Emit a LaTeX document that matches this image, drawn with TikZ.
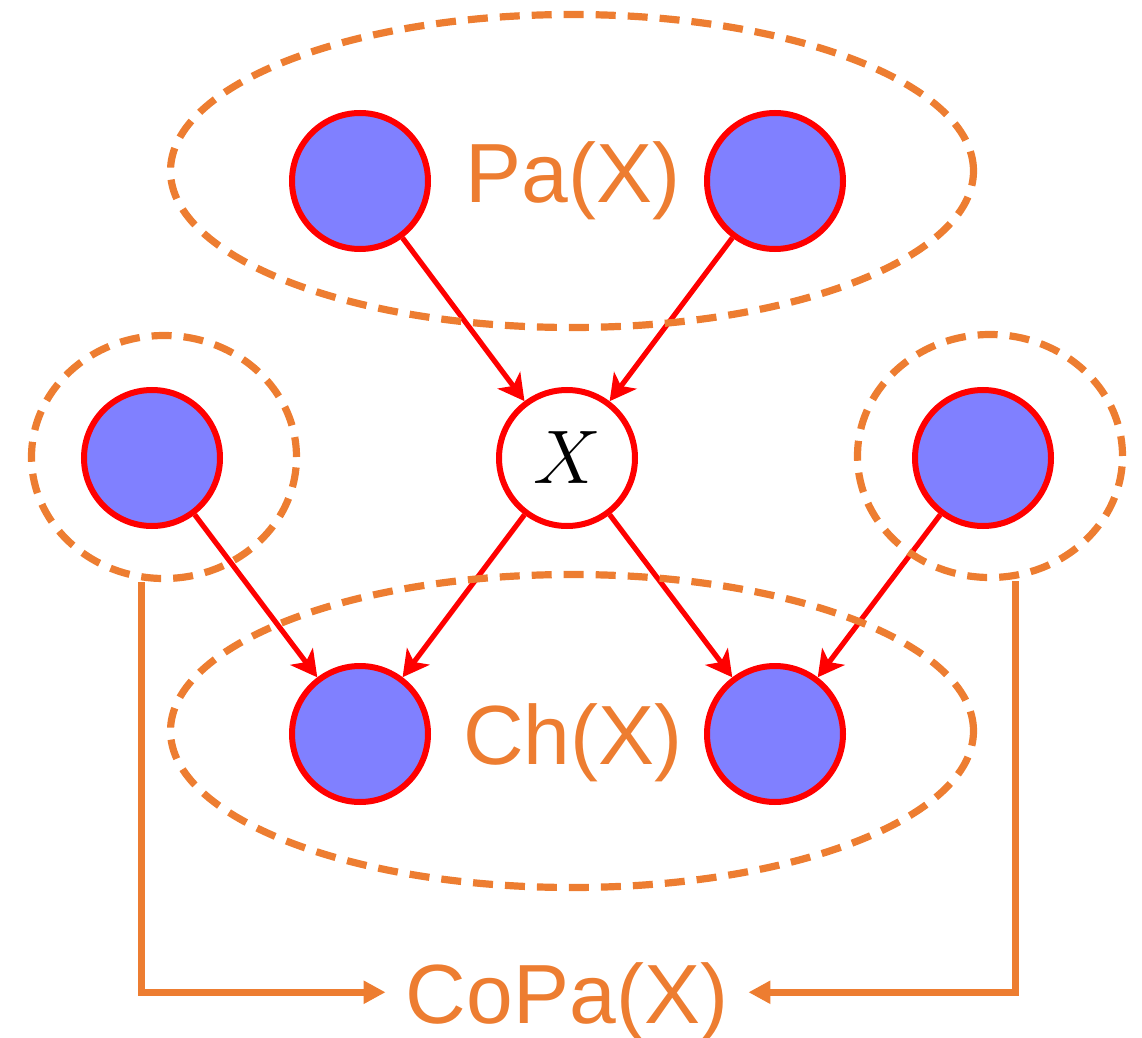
\RequirePackage{fix-cm}
\documentclass[tikz,border=0pt]{standalone}
\usepackage{fontspec}
\newfontfamily\labelfont{Liberation Sans}
\usetikzlibrary{positioning,arrows.meta,shapes.geometric}
\definecolor{varblue}{HTML}{8080FF}
\definecolor{setorange}{HTML}{ED7D31}

\begin{document}
\begin{tikzpicture}[
    x=0.5pt, y=-0.5pt,
    var/.style={circle, draw=red, line width=3pt, fill=varblue, minimum size=68pt, inner sep=0pt},
    target/.style={var, fill=white},
    edge/.style={-{Stealth[length=13pt, width=14pt, inset=3.5pt]}, draw=red, line width=2.6pt},
    groupset/.style={ellipse, draw=setorange, line width=3.6pt, dash pattern=on 10pt off 6pt, inner sep=0pt},
    setlabel/.style={text=setorange, font=\labelfont\fontsize{42}{42}\selectfont, anchor=base, inner sep=0pt},
    copaline/.style={-{Triangle[length=11pt, width=11pt]}, draw=setorange, line width=3.5pt}
]
    \useasboundingbox (0,0) rectangle (1142,1038);

    % Variables
    \node[var] (paleft) at (360,181) {};
    \node[var] (paright) at (775,181) {};
    \node[target] (x) at (567,458) {\fontsize{38}{38}\selectfont$X$};
    \node[var] (coleft) at (152,458) {};
    \node[var] (coright) at (983,458) {};
    \node[var] (chleft) at (360,734) {};
    \node[var] (chright) at (775,734) {};

    % Edges of the network
    \draw[edge] (paleft) -- (x);
    \draw[edge] (paright) -- (x);
    \draw[edge] (x) -- (chleft);
    \draw[edge] (x) -- (chright);
    \draw[edge] (coleft) -- (chleft);
    \draw[edge] (coright) -- (chright);

    % Dashed sets round the neighbours of X
    \node[groupset, minimum width=401.5pt, minimum height=156.5pt] (paset) at (572,171) {};
    \node[groupset, minimum width=401.5pt, minimum height=156.5pt] (chset) at (572,731) {};
    \node[groupset, minimum width=132.5pt, minimum height=121.5pt] (coleftset) at (164,457) {};
    \node[groupset, minimum width=132.5pt, minimum height=121.5pt] (corightset) at (990,456) {};

    % Set labels
    \node[setlabel] (palabel) at (573,203) {Pa(X)};
    \node[setlabel] (chlabel) at (573,764) {Ch(X)};
    \node[setlabel, inner xsep=10pt] (copa) at (567,1023) {CoPa(X)};

    % Co-parents pointing to their label
    \draw[copaline] ([xshift=-11.5pt]coleftset.south) |- ([yshift=4.5pt]copa.west);
    \draw[copaline] ([xshift=12.5pt]corightset.south) |- ([yshift=4.5pt]copa.east);
\end{tikzpicture}
\end{document}
